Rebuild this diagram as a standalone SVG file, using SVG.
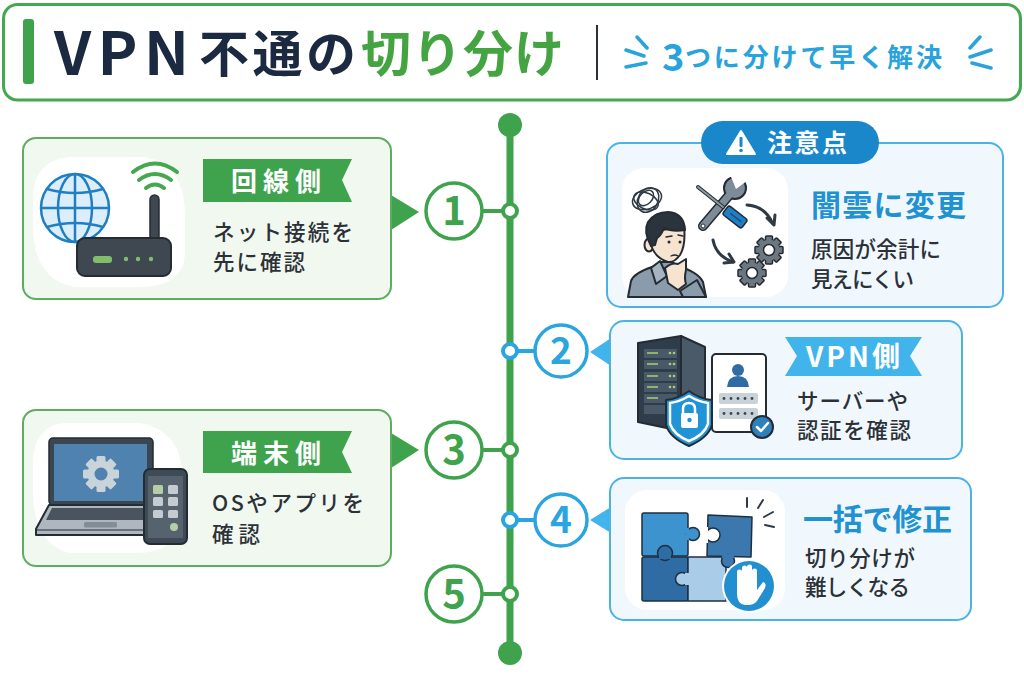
<svg xmlns="http://www.w3.org/2000/svg" xmlns:xlink="http://www.w3.org/1999/xlink" width="1024" height="683" viewBox="0 0 1024 683">
<style>
text{font-family:"Noto Sans CJK JP","Noto Sans",sans-serif}
.b{font-weight:700}
.m{font-weight:500}
.body{font-size:21.5px;font-weight:500;fill:#2C3138}
.gc{fill:#F1F8EF;stroke:#5BAE60;stroke-width:2}
.bc{fill:#F1F8FD;stroke:#4BB3E4;stroke-width:2}
.blob{fill:#fff}
.numg{fill:#fff;stroke:#3FA34D;stroke-width:3.5}
.numb{fill:#fff;stroke:#2BA5E0;stroke-width:3.5}
.dg{font-size:40px;font-weight:700;fill:#3FA34D;text-anchor:middle}
.db{font-size:37px;font-weight:700;fill:#2BA5E0;text-anchor:middle}
.ban{font-size:26px;font-weight:700;fill:#fff}
.ink{stroke:#242B33;stroke-width:2;stroke-linejoin:round;stroke-linecap:round}
.spark{stroke:#29A3DC;stroke-width:3.5;stroke-linecap:round;fill:none}
.arr{fill:none;stroke:#2F3A45;stroke-width:3;stroke-linecap:round;stroke-linejoin:round}
</style>
<defs>
<g id="gear">
<g fill="#6C7780" stroke="#242B33" stroke-width="1.5">
<rect x="-3.5" y="-14" width="7" height="28" rx="1"/>
<rect x="-3.5" y="-14" width="7" height="28" rx="1" transform="rotate(45)"/>
<rect x="-3.5" y="-14" width="7" height="28" rx="1" transform="rotate(90)"/>
<rect x="-3.5" y="-14" width="7" height="28" rx="1" transform="rotate(135)"/>
<circle r="10.5" stroke="none"/>
<circle r="5.5" fill="#fff"/>
</g>
</g>
</defs>
<rect width="1024" height="683" fill="#fff"/>

<g id="header">
<rect x="3.500" y="4.500" width="1017" height="95.500" rx="14" fill="#fff" stroke="#45A851" stroke-width="3"/>
<rect x="23" y="19" width="11" height="65" rx="3" fill="#3FA34D"/>
<text class="b" x="54" y="75" font-size="60" fill="#1B2A41" textLength="135" lengthAdjust="spacing">VPN</text>
<text class="b" x="199" y="72" font-size="50" fill="#1B2A41" textLength="157" lengthAdjust="spacing">不通の</text>
<text class="b" x="361" y="72" font-size="50" fill="#45A442" textLength="203" lengthAdjust="spacing">切り分け</text>
<line x1="597" y1="25" x2="597" y2="80" stroke="#2C3138" stroke-width="2"/>
<path class="spark" d="M637 37L647 48M626 50L644 56M626 67L646 63M980 37L970 48M991 50L970 57M991 68L972 63"/>
<text class="b" x="662" y="71" font-size="38" fill="#29A3DC">3</text>
<text class="b" x="685" y="67" font-size="26" fill="#29A3DC" textLength="257" lengthAdjust="spacing">つに分けて早く解決</text>
</g>

<g id="connectors" fill="none">
<line x1="510" y1="125" x2="510" y2="653" stroke="#3FA34D" stroke-width="7"/>
<line x1="482" y1="211" x2="509" y2="211" stroke="#3FA34D" stroke-width="4"/>
<line x1="482" y1="450" x2="509" y2="450" stroke="#3FA34D" stroke-width="4"/>
<line x1="482" y1="594" x2="509" y2="594" stroke="#3FA34D" stroke-width="4"/>
<line x1="509" y1="351" x2="535" y2="351" stroke="#2BA5E0" stroke-width="4"/>
<line x1="509" y1="520" x2="535" y2="520" stroke="#2BA5E0" stroke-width="4"/>
<circle cx="510" cy="125" r="12" fill="#3FA34D"/>
<circle cx="510" cy="653" r="12" fill="#3FA34D"/>
<circle cx="510" cy="211" r="7" fill="#fff" stroke="#3FA34D" stroke-width="4"/>
<circle cx="510" cy="450" r="7" fill="#fff" stroke="#3FA34D" stroke-width="4"/>
<circle cx="510" cy="594" r="7" fill="#fff" stroke="#3FA34D" stroke-width="4"/>
<circle cx="510" cy="351" r="7" fill="#fff" stroke="#2BA5E0" stroke-width="4"/>
<circle cx="510" cy="520" r="7" fill="#fff" stroke="#2BA5E0" stroke-width="4"/>
<path d="M391 195L419 212L391 230Z" fill="#3FA34D" stroke="none"/>
<path d="M391 433L419 450L391 468Z" fill="#3FA34D" stroke="none"/>
<path d="M590 352L611 338V366Z" fill="#41B4EC" stroke="none"/>
<path d="M590 520L611 507V533Z" fill="#41B4EC" stroke="none"/>
</g>

<g id="step1">
<circle class="numg" cx="454" cy="211" r="28"/>
<text class="dg" x="454" y="225">1</text>
</g>
<g id="step2">
<circle class="numb" cx="561" cy="351" r="26"/>
<text class="db" x="561" y="364">2</text>
</g>
<g id="step3">
<circle class="numg" cx="454" cy="450" r="28"/>
<text class="dg" x="454" y="464">3</text>
</g>
<g id="step4">
<circle class="numb" cx="561" cy="520" r="26"/>
<text class="db" x="561" y="533">4</text>
</g>
<g id="step5">
<circle class="numg" cx="454" cy="594" r="28"/>
<text class="dg" x="454" y="608">5</text>
</g>

<g id="line-card">
<rect class="gc" x="23" y="138" width="368" height="161" rx="13"/>
<path class="blob" d="M70 157H145Q185 165 185 215V255Q182 287 140 287H75Q33 280 33 225V195Q35 160 70 157Z"/>
<circle cx="75" cy="208" r="34" fill="#DCEDFB" stroke="#1F7FC4" stroke-width="2.500"/>
<g fill="none" stroke="#1F7FC4" stroke-width="2.500">
<ellipse cx="75" cy="208" rx="17" ry="34"/>
<line x1="75" y1="174" x2="75" y2="242"/>
<line x1="41" y1="208" x2="109" y2="208"/>
<path d="M47 189Q75 197 103 189M47 227Q75 219 103 227"/>
</g>
<g fill="none" stroke="#45A851" stroke-width="4" stroke-linecap="round">
<path d="M133 172Q155 155 177 172"/>
<path d="M139 180Q155 168 171 180"/>
<path d="M146 188Q155 181 164 188"/>
</g>
<rect x="150" y="195" width="9" height="46" rx="4.500" fill="#3F4750" stroke="#242B33" stroke-width="1.500"/>
<rect x="77" y="238" width="94" height="38" rx="8" fill="#3F4750" stroke="#242B33" stroke-width="2"/>
<rect x="93" y="256" width="19" height="7" rx="3" fill="#7FBF6A"/>
<g fill="#7FBF6A"><circle cx="126" cy="259" r="2.200"/><circle cx="138" cy="259" r="2.200"/><circle cx="151" cy="259" r="2.200"/></g>
<path d="M203 159H352L342 180L352 202H203Z" fill="#3FA34D"/>
<text class="ban" x="231" y="191" textLength="90" lengthAdjust="spacing">回線側</text>
<text class="body" x="213" y="240" textLength="140" lengthAdjust="spacing">ネット接続を</text>
<text class="body" x="213" y="270" textLength="92" lengthAdjust="spacing">先に確認</text>
</g>

<g id="device-card">
<rect class="gc" x="23" y="410" width="368" height="156" rx="13"/>
<path class="blob" d="M65 423H140Q182 430 183 480V515Q180 553 135 553H70Q33 545 33 490V460Q35 425 65 423Z"/>
<rect x="49" y="438" width="104" height="67" rx="4" fill="#3A4753" stroke="#242B33" stroke-width="1.500"/>
<rect x="54" y="444" width="93" height="57" fill="#4F82AE"/>
<g transform="translate(101 474)" fill="#C9D3DA">
<rect x="-4.500" y="-18" width="9" height="36" rx="1.500"/>
<rect x="-4.500" y="-18" width="9" height="36" rx="1.500" transform="rotate(45)"/>
<rect x="-4.500" y="-18" width="9" height="36" rx="1.500" transform="rotate(90)"/>
<rect x="-4.500" y="-18" width="9" height="36" rx="1.500" transform="rotate(135)"/>
<circle r="13.500"/>
<circle r="6.500" fill="#4F82AE"/>
</g>
<path d="M49 505H153L170 529V535H36V529Z" fill="#AEB7BF" stroke="#242B33" stroke-width="2" stroke-linejoin="round"/>
<line x1="37" y1="530" x2="169" y2="530" stroke="#242B33" stroke-width="1.200"/>
<path d="M52 508H150L155 520H46Z" fill="#4A545E"/>
<rect x="84" y="522" width="33" height="5.500" rx="1.500" fill="#838D96"/>
<rect x="144" y="469" width="43" height="75" rx="6" fill="#3E4A55" stroke="#242B33" stroke-width="2"/>
<rect x="148" y="476" width="35" height="62" fill="#56626D"/>
<rect x="153" y="485" width="10" height="9" rx="1.500" fill="#B5CFA5"/>
<g fill="#C4CCD1">
<rect x="168" y="485" width="10" height="9" rx="1.500"/>
<rect x="153" y="497" width="10" height="9" rx="1.500"/>
<rect x="168" y="497" width="10" height="9" rx="1.500"/>
<rect x="153" y="510" width="10" height="8" rx="1.500"/>
<rect x="168" y="510" width="10" height="8" rx="1.500"/>
</g>
<circle cx="174" cy="527" r="4" fill="#B5CFA5"/>
<path d="M203 431H352L342 452L352 473H203Z" fill="#3FA34D"/>
<text class="ban" x="231" y="463" textLength="90" lengthAdjust="spacing">端末側</text>
<text class="body" x="212" y="511" textLength="152" lengthAdjust="spacing">OSやアプリを</text>
<text class="body" x="212" y="542" textLength="48" lengthAdjust="spacing">確認</text>
</g>

<g id="caution-card">
<rect class="bc" x="607" y="143" width="396" height="164" rx="14"/>
<rect x="701" y="121" width="178" height="43" rx="21.500" fill="#1B87CB"/>
<path d="M741 131L755 154H727Z" fill="#fff" stroke="#fff" stroke-width="2" stroke-linejoin="round"/>
<rect x="739.500" y="137" width="3" height="10" rx="1" fill="#1B87CB"/>
<circle cx="741" cy="150.500" r="1.800" fill="#1B87CB"/>
<text class="b" x="767" y="152" font-size="25" fill="#fff" textLength="80" lengthAdjust="spacing">注意点</text>
<rect class="blob" x="622" y="168" width="166" height="129" rx="22"/>
<g fill="none" stroke="#2F3A45" stroke-width="1.500">
<ellipse cx="647" cy="199" rx="15" ry="10" transform="rotate(-20 647 199)"/>
<ellipse cx="646" cy="201" rx="13" ry="8" transform="rotate(25 646 201)"/>
<ellipse cx="648" cy="200" rx="10" ry="13" transform="rotate(30 648 200)"/>
<ellipse cx="646" cy="198" rx="9" ry="6" transform="rotate(-45 646 198)"/>
</g>
<path class="ink" d="M628 297L631 281Q634 273 652 267L660 262H672L678 266Q698 272 703 282L706 297Z" fill="#8A9BAB"/>
<path class="ink" d="M651 268L660 261L667 276L656 284Z" fill="#A6B4C0"/>
<ellipse class="ink" cx="649" cy="245" rx="4.500" ry="6.500" fill="#F6E3D0"/>
<path class="ink" d="M652 232L684 226Q686 245 680 255Q674 263 668 262Q655 258 651 245Z" fill="#F6E3D0"/>
<path class="ink" d="M651 246Q643 232 648 222Q655 212 668 212Q684 213 685 230Q672 232 664 228Q661 236 657 238L655 245Z" fill="#2B333C"/>
<path d="M666 237L672 236M678 235L683 236" stroke="#242B33" stroke-width="1.500" fill="none" stroke-linecap="round"/>
<circle cx="669" cy="242" r="1.500" fill="#242B33"/>
<circle cx="680" cy="242" r="1.500" fill="#242B33"/>
<path d="M671 256Q675 254 678 256" stroke="#242B33" stroke-width="1.300" fill="none" stroke-linecap="round"/>
<path class="ink" d="M680 291L697 280L706 297H683Z" fill="#8A9BAB"/>
<path class="ink" d="M665 268Q672 262 678 264L686 259L686 270Q684 278 686 284L678 290L668 283Z" fill="#F6E3D0"/>
<line x1="703" y1="226" x2="731" y2="193" stroke="#242B33" stroke-width="10" stroke-linecap="round"/>
<circle cx="735" cy="188" r="11" fill="#7E8C99" stroke="#242B33" stroke-width="2"/>
<path d="M736 189L729 172L751 178Z" fill="#fff"/>
<line x1="703" y1="226" x2="731" y2="193" stroke="#7E8C99" stroke-width="7" stroke-linecap="round"/>
<circle cx="703" cy="226" r="2" fill="#fff" stroke="#242B33"/>
<line x1="698" y1="187" x2="723" y2="207" stroke="#242B33" stroke-width="4" stroke-linecap="round"/>
<line x1="698" y1="187" x2="723" y2="207" stroke="#8E99A3" stroke-width="2" stroke-linecap="round"/>
<g transform="translate(735 217) rotate(38)">
<rect x="-12" y="-5.500" width="24" height="11" rx="2.500" fill="#1F7FC4" stroke="#242B33" stroke-width="1.500"/>
<line x1="-6" y1="0" x2="8" y2="0" stroke="#16507E" stroke-width="1.500"/>
</g>
<path class="arr" d="M747 205Q765 206 773 224"/>
<path class="arr" d="M767 218L774 225L775 215"/>
<path class="arr" d="M713 240Q716 256 733 262"/>
<path class="arr" d="M724 263L734 262L729 254"/>
<use href="#gear" x="769" y="250"/>
<use href="#gear" x="752" y="273"/>
<text class="b" x="811" y="216" font-size="30" fill="#2091D3" textLength="155" lengthAdjust="spacing">闇雲に変更</text>
<text class="body" x="811" y="257" textLength="130" lengthAdjust="spacing">原因が余計に</text>
<text class="body" x="811" y="287" textLength="103" lengthAdjust="spacing">見えにくい</text>
</g>

<g id="vpn-card">
<rect class="bc" x="610" y="321" width="352" height="138" rx="14"/>
<path d="M638 343L681 336V431L638 422Z" fill="#2F3C4A" stroke="#242B33" stroke-width="2" stroke-linejoin="round"/>
<path d="M681 336L705 347V420L681 431Z" fill="#4B5A69" stroke="#242B33" stroke-width="2" stroke-linejoin="round"/>
<g fill="#4A5968">
<rect x="644" y="349" width="33" height="9"/>
<rect x="644" y="360" width="33" height="9"/>
<rect x="644" y="372" width="33" height="9"/>
<rect x="644" y="383" width="33" height="9"/>
<rect x="644" y="394" width="33" height="9"/>
<rect x="644" y="405" width="33" height="9"/>
</g>
<g stroke="#A7CF6F" stroke-width="1.500"><path d="M647 353H658M647 364H658M647 376H658M647 387H658M647 398H658"/></g>
<g fill="#A7CF6F"><circle cx="670" cy="353" r="1.300"/><circle cx="674" cy="353" r="1.300"/><circle cx="670" cy="364" r="1.300"/><circle cx="674" cy="364" r="1.300"/><circle cx="670" cy="376" r="1.300"/><circle cx="674" cy="376" r="1.300"/><circle cx="670" cy="387" r="1.300"/><circle cx="674" cy="387" r="1.300"/></g>
<rect x="712" y="354" width="54" height="78" rx="4" fill="#fff" stroke="#242B33" stroke-width="2"/>
<circle cx="738" cy="370" r="6" fill="#2F6CA3"/>
<path d="M727 387Q728 376 738 376Q748 376 749 387Z" fill="#2F6CA3"/>
<rect x="719" y="393" width="39" height="11" rx="2" fill="#C9D1D9"/>
<rect x="719" y="408" width="39" height="11" rx="2" fill="#C9D1D9"/>
<g fill="#3A4753"><circle cx="724" cy="398.500" r="1.400"/><circle cx="731" cy="398.500" r="1.400"/><circle cx="738" cy="398.500" r="1.400"/><circle cx="745" cy="398.500" r="1.400"/><circle cx="752" cy="398.500" r="1.400"/><circle cx="724" cy="413.500" r="1.400"/><circle cx="731" cy="413.500" r="1.400"/><circle cx="738" cy="413.500" r="1.400"/><circle cx="745" cy="413.500" r="1.400"/><circle cx="752" cy="413.500" r="1.400"/></g>
<circle cx="762" cy="427" r="11" fill="#2C80BE" stroke="#242B33" stroke-width="2"/>
<path d="M757 427L761 431L768 423" fill="none" stroke="#fff" stroke-width="2.500" stroke-linecap="round" stroke-linejoin="round"/>
<path d="M689 391Q700 399 712 400V425Q708 438 689 446Q670 438 666 425V400Q678 399 689 391Z" fill="#2193D7" stroke="#242B33" stroke-width="2" stroke-linejoin="round"/>
<path d="M689 396Q699 402 708 403V424Q704 435 689 441Q674 435 670 424V403Q679 402 689 396Z" fill="#2193D7" stroke="#fff" stroke-width="2.500" stroke-linejoin="round"/>
<path d="M683 414V409Q683 403 689 403Q695 403 695 409V414" fill="none" stroke="#fff" stroke-width="2.500"/>
<rect x="681" y="413" width="17" height="15" rx="2" fill="#fff"/>
<circle cx="689.500" cy="420" r="2.200" fill="#2193D7"/>
<path d="M785 337H922L910 356L922 376H785L797 356Z" fill="#41B4EC"/>
<text class="b" x="806" y="367" font-size="28" fill="#fff" textLength="94" lengthAdjust="spacing">VPN側</text>
<text class="body" x="797" y="409" textLength="111" lengthAdjust="spacing">サーバーや</text>
<text class="body" x="797" y="438" textLength="114" lengthAdjust="spacing">認証を確認</text>
</g>

<g id="fix-card">
<rect class="bc" x="610" y="478" width="361" height="142" rx="14"/>
<rect class="blob" x="625" y="490" width="160" height="120" rx="22"/>
<rect x="642" y="557" width="46" height="44" rx="2" fill="#2F6CA3" stroke="#1D2F42" stroke-width="1.500"/>
<rect x="688" y="557" width="38" height="44" fill="#A9CDE8" stroke="#1D2F42" stroke-width="1.500"/>
<circle cx="682" cy="579" r="6.500" fill="#A9CDE8" stroke="#1D2F42" stroke-width="1.500"/>
<rect x="685" y="573" width="5" height="12" fill="#A9CDE8"/>
<rect x="642" y="513" width="46" height="43" rx="2" fill="#3D93CE" stroke="#1D2F42" stroke-width="1.500"/>
<circle cx="693" cy="534" r="6.500" fill="#3D93CE" stroke="#1D2F42" stroke-width="1.500"/>
<rect x="686" y="528" width="3" height="12" fill="#3D93CE"/>
<circle cx="665" cy="553" r="7.500" fill="#2F6CA3" stroke="#1D2F42" stroke-width="1.500"/>
<rect x="659" y="555" width="12" height="4" fill="#2F6CA3"/>
<path d="M708 515L752 517L751 557L707 556Z" fill="#3A78AE" stroke="#1D2F42" stroke-width="1.500" stroke-linejoin="round"/>
<circle cx="713" cy="535" r="7" fill="#fff" stroke="#1D2F42" stroke-width="1.500"/>
<rect x="703" y="527" width="5" height="16" fill="#fff"/>
<circle cx="728" cy="561" r="6.500" fill="#3A78AE" stroke="#1D2F42" stroke-width="1.500"/>
<rect x="722" y="554" width="12" height="4" fill="#3A78AE"/>
<circle cx="749" cy="586" r="27" fill="#fff"/>
<circle cx="749" cy="586" r="25" fill="#2290D0"/>
<path d="M737 587V572a2.500 2.500 0 0 1 5 0V584V568a2.500 2.500 0 0 1 5 0V584V567a2.500 2.500 0 0 1 5 0V584V571a2.500 2.500 0 0 1 5 0V590L763 582Q767 583 765 588L757 601Q754 605 748 605H745Q737 604 737 594Z" fill="#fff"/>
<path d="M747 498V507M763 500L758 508M773 512L764 517M774 527L765 525" stroke="#2F3A45" stroke-width="2" stroke-linecap="round" fill="none"/>
<text class="b" x="803" y="530" font-size="30" fill="#2091D3" textLength="149" lengthAdjust="spacing">一括で修正</text>
<text class="body" x="805" y="566" textLength="110" lengthAdjust="spacing">切り分けが</text>
<text class="body" x="805" y="595" textLength="105" lengthAdjust="spacing">難しくなる</text>
</g>
</svg>
